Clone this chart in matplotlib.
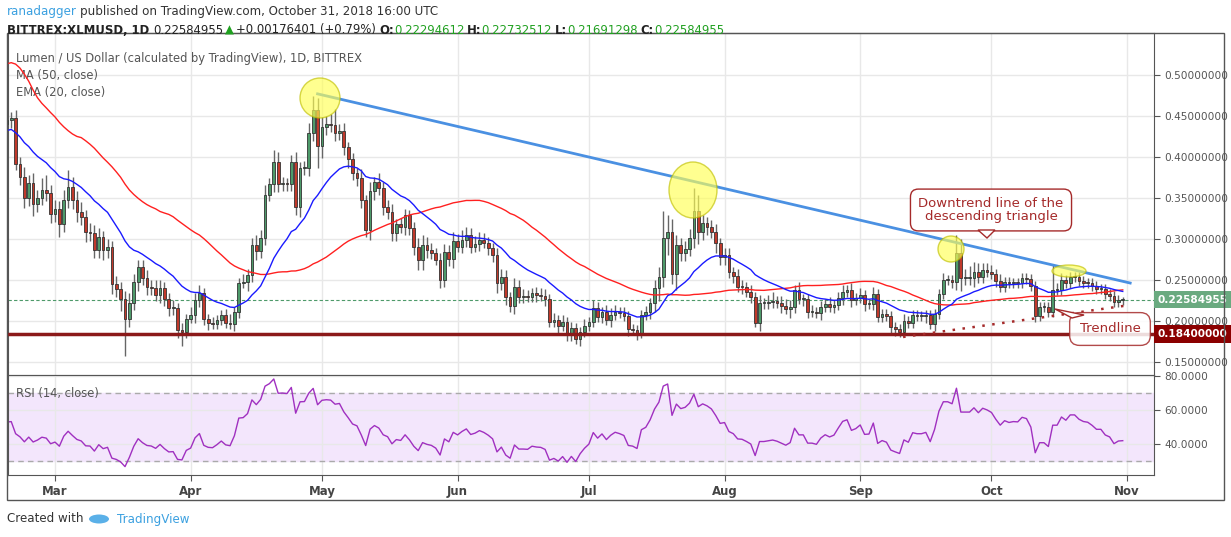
import numpy as np
import pandas as pd
import matplotlib
matplotlib.use('Agg')
import matplotlib.pyplot as plt
import matplotlib.dates as mdates
from matplotlib.patches import Ellipse, Rectangle, Polygon
from matplotlib.transforms import blended_transform_factory

# closes before the visible range (only used to warm up MA/EMA/RSI)
prior = [0.33, 0.38, 0.48, 0.62, 0.72, 0.80, 0.88, 0.82, 0.70, 0.63,
         0.62, 0.60, 0.65, 0.62, 0.60, 0.55, 0.48, 0.40, 0.50, 0.52,
         0.53, 0.60, 0.58, 0.55, 0.52, 0.55, 0.56, 0.62, 0.58, 0.52,
         0.50, 0.46, 0.42, 0.38, 0.35, 0.40, 0.32, 0.30, 0.36, 0.40,
         0.38, 0.39, 0.41, 0.40, 0.38, 0.42, 0.44, 0.45, 0.46, 0.44]

# daily closes 2018-02-18 .. 2018-10-31
closes = [
    .445, .447, .392, .376, .350, .368, .343, .350, .360, .356,
    .331, .336, .318, .348, .364, .348, .333, .327, .308, .307,
    .287, .302, .287, .290, .245, .239, .227, .203, .222, .247,
    .266, .252, .242, .240, .232, .240, .2265, .2155, .216, .189,
    .187, .203, .207, .2256, .234, .203, .197, .196, .201, .207,
    .198, .196, .2115, .246, .247, .256, .293, .285, .301, .354,
    .367, .3935, .367, .368, .367, .394, .339, .386, .387, .429,
    .457, .414, .437, .440, .439, .429, .432, .412, .397, .380,
    .375, .348, .311, .358, .370, .362, .3395, .333, .307, .318,
    .315, .329, .313, .2907, .2744,
    .2926, .2866, .2833, .2744, .25, .2845, .2752, .298, .2906, .2988,
    .3049, .2906, .2935, .2988, .2947, .2886, .2805, .2459, .254, .2296,
    .2187, .2419, .2296, .2296, .2288, .2337, .2317, .2309, .2264, .199,
    .2012, .1939, .1992, .1841, .191, .1776, .187, .1939, .1992, .2154,
    .2053, .2114, .2012, .2073, .2114, .2093, .2065, .1902, .189, .1849,
    .2073, .2106, .2215, .2398, .254, .3008, .3089, .2573, .2927, .2833,
    .2874, .3008, .334, .3089, .319, .315, .3089, .2955, .2785, .2805,
    .2601, .2549, .2419, .241, .2358, .2297, .198, .2223, .2223, .2236,
    .2248, .2223, .2183, .2142, .2175, .2378, .2264, .2264, .2114, .2114,
    .2093, .2167, .2207, .2175, .2195, .2276,
    .2358, .2378, .2256, .2276, .2317, .2207, .221, .2329, .2053, .2085,
    .206, .193, .1898, .187, .2004, .197, .2073, .206, .206, .2073,
    .1963, .2085, .233, .25, .25, .248, .2825, .252, .252, .252,
    .2602, .254, .2622, .2602, .2573, .2492, .2419, .248, .2459, .247,
    .2467, .252, .2508, .2427, .2065, .2175, .2175, .2114, .2378, .2378,
    .25, .2459, .254, .254, .2492, .2467, .2459, .2427, .2386, .2386,
    .2329, .2309, .2236, .2256, .22584955]

# wick lengths above / below the body, in 0.001 USD
wick_up = [
    12, 8, 10, 8, 12, 10, 12, 10, 15, 18, 10, 12, 10, 12, 20, 12, 10, 12, 8, 12,
    10, 12, 8, 10, 8, 10, 8, 10, 12, 10, 8, 8, 10, 8, 10, 10, 8, 8, 10, 6,
    8, 6, 10, 8, 10, 6, 6, 8, 6, 6, 8, 10, 6, 6, 10, 8, 8, 12, 10, 12,
    8, 15, 12, 8, 6, 8, 12, 8, 8, 12, 18, 15, 12, 10, 12, 20, 8, 10, 6, 8,
    6, 10, 6, 12, 6, 10, 8, 8, 10, 6, 8, 8, 6, 8, 10,
    12, 10, 8, 6, 8, 10, 8, 10, 8, 12, 10, 8, 10, 10, 8, 8, 6, 8, 10, 8,
    6, 10, 8, 10, 8, 6, 8, 8, 8, 6, 8, 6, 8, 6, 8, 6, 6, 8, 6, 10,
    8, 6, 8, 8, 8, 6, 8, 6, 6, 6, 6, 8, 6, 10, 12, 33, 20, 15, 12, 8,
    10, 12, 28, 20, 10, 8, 8, 10, 6, 8, 8, 6, 8, 8, 6, 8, 6, 10, 6, 8,
    10, 6, 8, 8, 8, 6, 10, 6, 6, 8, 6, 8, 6, 8, 6, 8,
    8, 6, 8, 6, 8, 6, 6, 8, 6, 6, 6, 6, 6, 6, 8, 6, 6, 6, 6, 6,
    6, 6, 6, 8, 6, 6, 22, 18, 12, 15, 12, 10, 8, 8, 8, 6, 8, 6, 6, 6,
    6, 6, 6, 6, 6, 6, 6, 6, 32, 8, 8, 6, 6, 6, 6, 6, 6, 6, 6, 6,
    6, 6, 6, 6, 4]
wick_dn = [
    15, 10, 8, 10, 12, 10, 15, 10, 8, 10, 12, 10, 15, 10, 10, 12, 12, 10, 12, 10,
    10, 10, 12, 10, 12, 10, 15, 46, 10, 8, 10, 8, 10, 8, 8, 10, 8, 10, 8, 10,
    18, 8, 6, 10, 8, 8, 8, 6, 6, 6, 6, 6, 8, 8, 6, 10, 8, 10, 8, 8,
    8, 10, 10, 8, 8, 8, 10, 12, 8, 10, 10, 28, 15, 10, 8, 10, 8, 10, 10, 8,
    10, 10, 8, 12, 10, 8, 10, 8, 10, 10, 8, 10, 8, 10, 12,
    12, 10, 8, 6, 10, 8, 8, 10, 6, 8, 8, 8, 6, 8, 6, 8, 8, 12, 8, 10,
    8, 10, 8, 8, 6, 6, 8, 6, 8, 6, 6, 8, 6, 8, 8, 6, 8, 6, 6, 6,
    6, 8, 6, 8, 6, 6, 6, 8, 6, 8, 6, 6, 8, 10, 15, 12, 20, 12, 20, 10,
    10, 8, 12, 15, 10, 10, 8, 12, 10, 10, 8, 8, 6, 8, 6, 8, 5, 10, 8, 8,
    8, 6, 8, 6, 10, 8, 6, 8, 8, 6, 6, 8, 6, 6, 8, 6,
    8, 6, 8, 6, 6, 8, 6, 8, 6, 6, 6, 8, 8, 6, 6, 6, 6, 6, 6, 8,
    6, 8, 6, 6, 6, 8, 10, 15, 8, 8, 10, 8, 8, 6, 6, 8, 6, 6, 6, 6,
    6, 6, 6, 6, 8, 6, 6, 6, 6, 6, 6, 6, 6, 6, 6, 6, 6, 6, 6, 6,
    6, 6, 6, 6, 6]

price_ticks = [0.15, 0.20, 0.25, 0.30, 0.35, 0.40, 0.45, 0.50]
rsi_ticks = [40, 60, 80]
months = ['Mar', 'Apr', 'May', 'Jun', 'Jul', 'Aug', 'Sep', 'Oct', 'Nov']
support = 0.184

W, H = 1231, 537
dates = pd.date_range('2018-02-18', periods=len(closes))
x = mdates.date2num(dates)
allc = pd.Series(prior + closes)
n0 = len(prior)
ma50 = allc.rolling(50).mean().values[n0:]
ema20 = allc.ewm(span=20, adjust=False).mean().values[n0:]
d = allc.diff()
up = d.clip(lower=0).ewm(alpha=1 / 14, adjust=False).mean()
dn = (-d.clip(upper=0)).ewm(alpha=1 / 14, adjust=False).mean()
rsi = (100 - 100 / (1 + up / dn)).values[n0:]

c = np.array(closes)
o = np.array(allc.shift(1).values[n0:])
top = np.maximum(o, c)
bot = np.minimum(o, c)
hi = top + np.array(wick_up) / 1000.0
lo = bot - np.array(wick_dn) / 1000.0

fig = plt.figure(figsize=(W / 100, H / 100), dpi=100)

def fx(px):
    return px / W

def fy(py):
    return 1 - py / H

ax = fig.add_axes([fx(8), fy(375), fx(1154 - 8), (375 - 33) / H])
ar = fig.add_axes([fx(8), fy(475), fx(1154 - 8), (475 - 375) / H], sharex=ax)

mar1 = mdates.date2num(pd.Timestamp('2018-03-01'))
ppd = 4.376
ax.set_xlim(mar1 - 47 / ppd, mar1 + 1099 / ppd)
ax.set_ylim(0.5 - 300 / 820, 0.5 + 42 / 820)
ar.set_ylim(80 - 98 / 33.5 * 20, 80.6)

mticks = mdates.date2num(pd.date_range('2018-03-01', periods=9, freq='MS'))
for a in (ax, ar):
    a.set_xticks(mticks)
    a.grid(True, color='#e8e8e8', lw=1)
    a.set_axisbelow(True)
    a.yaxis.tick_right()
    for s in a.spines.values():
        s.set_color('#555555')
    a.tick_params(colors='#555555', labelsize=7.6, length=4)
ax.tick_params(axis='x', labelbottom=False, length=0)
ar.set_xticklabels(months, fontsize=8.5, color='#444444', fontweight='bold')
ax.set_yticks(price_ticks)
ax.set_yticklabels(['%.8f' % v for v in price_ticks])
ar.set_yticks(rsi_ticks)
ar.set_yticklabels(['%.4f' % v for v in rsi_ticks])

# candles
green, red = '#4e9a6a', '#c0392b'
cols = np.where(c >= o, green, red)
ax.vlines(x, lo, hi, color='#666666', lw=1, zorder=2)
ax.bar(x, np.maximum(top - bot, 0.0012), bottom=bot, width=0.62, color=cols,
       edgecolor='#333333', linewidth=0.6, zorder=3)
ax.plot(x, ma50, color='#ff2020', lw=1, zorder=4)
ax.plot(x, ema20, color='#1a1aff', lw=1, zorder=4)

ax.axhline(support, color='#8b1a1a', lw=2.5, zorder=5)
ax.axhline(c[-1], color='#4e9a6a', lw=0.8, ls=(0, (3, 2)), zorder=1)

# downtrend line and dotted trendline
ax.plot([mar1 + 60, mar1 + 245.7], [0.477, 0.2463], color='#4a90e2', lw=2, zorder=6)
ax.plot([mar1 + 193.8, mar1 + 245.7], [0.1805, 0.2195], color='#a52a2a', lw=1.8,
        ls=(0, (1, 3)), zorder=6)

for cx, cy, w, h in [(320, 98, 40, 40), (693, 190, 48, 56), (951, 249, 26, 26),
                     (1069, 271, 34, 12)]:
    ex = mar1 + (cx - 55) / ppd
    ey = 0.5 - (cy - 75) / 820
    ax.add_patch(Ellipse((ex, ey), w / ppd, h / 820, facecolor='#ffff55', alpha=0.65,
                         edgecolor='#bfbf00', lw=1, zorder=7))

# price labels on the right
tr = blended_transform_factory(ax.transAxes, ax.transData)
ax.text(1.003, c[-1], '%.8f' % c[-1], transform=tr, fontsize=7.6, color='white',
        fontweight='bold', va='center', ha='left',
        bbox=dict(boxstyle='square,pad=0.35', fc='#6aaa80', ec='none'))
ax.text(1.003, support, '%.8f' % support, transform=tr, fontsize=7.6, color='white',
        fontweight='bold', va='center', ha='left',
        bbox=dict(boxstyle='square,pad=0.35', fc='#8b0000', ec='none'))

# callouts
fig.text(fx(991), fy(210), 'Downtrend line of the\ndescending triangle', fontsize=9.5,
         color='#a52a2a', ha='center', va='center', linespacing=1.0, zorder=10,
         bbox=dict(boxstyle='round,pad=0.6', fc='white', ec='#a52a2a', lw=1))
fig.patches.append(Polygon([[fx(978), fy(230)], [fx(995), fy(230)], [fx(987), fy(238)]],
                           closed=True, fc='white', ec='#a52a2a', lw=1,
                           transform=fig.transFigure, figure=fig, zorder=11))
fig.text(fx(1110), fy(329), 'Trendline', fontsize=9.5, color='#a52a2a', ha='center',
         va='center', zorder=10,
         bbox=dict(boxstyle='round,pad=0.75', fc='white', ec='#a52a2a', lw=1, alpha=0.85))
fig.patches.append(Polygon([[fx(1072), fy(318)], [fx(1084), fy(315)], [fx(1055), fy(309)]],
                           closed=True, fc='white', ec='#a52a2a', lw=1,
                           transform=fig.transFigure, figure=fig, zorder=11))

# RSI panel
ar.axhspan(30, 70, color='#f3e6fc', zorder=0)
ar.axhline(70, color='#aaaaaa', lw=1, ls=(0, (4, 3)))
ar.axhline(30, color='#aaaaaa', lw=1, ls=(0, (4, 3)))
ar.plot(x, rsi, color='#a030c0', lw=1)

# texts
ax.text(0.007, 0.915, 'Lumen / US Dollar (calculated by TradingView), 1D, BITTREX',
        transform=ax.transAxes, fontsize=8.3, color='#555555')
ax.text(0.007, 0.865, 'MA (50, close)', transform=ax.transAxes, fontsize=8.3, color='#555555')
ax.text(0.007, 0.815, 'EMA (20, close)', transform=ax.transAxes, fontsize=8.3, color='#555555')
ar.text(0.007, 0.78, 'RSI (14, close)', transform=ar.transAxes, fontsize=8.3, color='#555555')

renderer = fig.canvas.get_renderer()

def chain(px, py, parts, size=8.6):
    # draw text pieces one after another on one line
    for s, col, bold, gap in parts:
        t = fig.text(fx(px), fy(py), s, fontsize=size, color=col, va='center',
                     fontweight='bold' if bold else 'normal')
        px = t.get_window_extent(renderer).x1 + gap

chain(7, 12, [('ranadagger', '#3ba0e0', False, 3),
              ('published on TradingView.com, October 31, 2018 16:00 UTC', '#333333', False, 3)])
chain(7, 30, [('BITTREX:XLMUSD, 1D', '#222222', True, 4), ('0.22584955', '#222222', False, 2),
              ('\u25b2', '#20a020', False, 2), ('+0.00176401 (+0.79%)', '#222222', False, 3),
              ('O:', '#222222', True, 0), ('0.22294612', '#20a020', False, 3),
              ('H:', '#222222', True, 0), ('0.22732512', '#20a020', False, 3),
              ('L:', '#222222', True, 0), ('0.21691298', '#20a020', False, 3),
              ('C:', '#222222', True, 0), ('0.22584955', '#20a020', False, 3)], size=8.4)

fig.text(fx(7), fy(519), 'Created with', fontsize=8.6, color='#333333', va='center')
fig.patches.append(Ellipse((fx(99), fy(519)), fx(20), 9 / H, fc='#5ab0e8', ec='none',
                           transform=fig.transFigure, figure=fig))
fig.text(fx(117), fy(519), 'TradingView', fontsize=8.6, color='#3ba0e0', va='center')

fig.patches.append(Rectangle((fx(7), fy(500)), fx(1224 - 7), (500 - 33) / H, fill=False,
                             ec='#555555', lw=1, transform=fig.transFigure, figure=fig))

fig.savefig('out.png', dpi=100)
